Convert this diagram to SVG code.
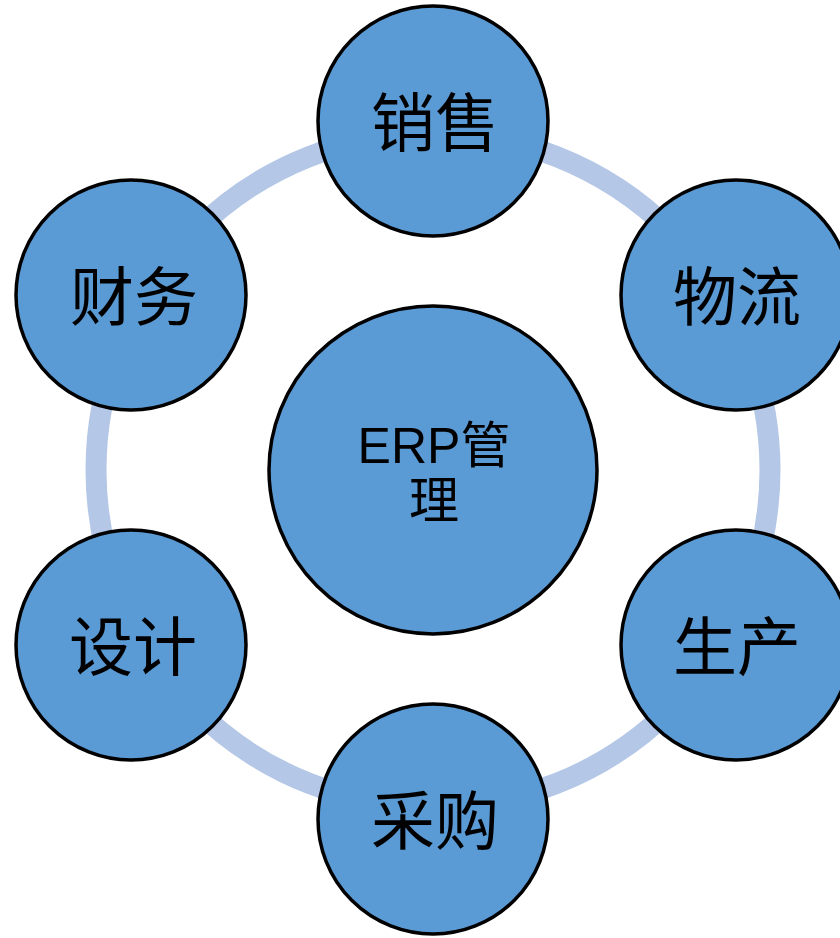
<svg xmlns="http://www.w3.org/2000/svg" width="840" height="938" viewBox="0 0 840 938">
<style>
.node{fill:#5b9bd5;stroke:#000;stroke-width:3.5}
.lbl{font-family:"Noto Sans CJK SC","Liberation Serif",sans-serif;font-size:64px;fill:#000;text-anchor:middle}
.ctr{font-family:"Liberation Sans","Noto Sans CJK SC",sans-serif;font-size:50px;fill:#000;text-anchor:middle}
</style>
<rect width="840" height="938" fill="#fff"/>
<g id="connectors">
<circle cx="433" cy="470" r="337" fill="none" stroke="#b4c7e7" stroke-width="21"/>
</g>
<g id="center">
<circle class="node" cx="433" cy="470" r="164"/>
<text class="ctr" x="434" y="463">ERP管</text>
<text class="ctr" x="434" y="518">理</text>
</g>
<g id="sales">
<circle class="node" cx="433" cy="121" r="115"/>
<text class="lbl" x="435" y="146">销售</text>
</g>
<g id="logistics">
<circle class="node" cx="736" cy="295" r="115"/>
<text class="lbl" x="737" y="320">物流</text>
</g>
<g id="production">
<circle class="node" cx="736" cy="645" r="115"/>
<text class="lbl" x="737" y="670">生产</text>
</g>
<g id="purchase">
<circle class="node" cx="433" cy="819" r="115"/>
<text class="lbl" x="435" y="844">采购</text>
</g>
<g id="design">
<circle class="node" cx="131" cy="645" r="115"/>
<text class="lbl" x="133" y="670">设计</text>
</g>
<g id="finance">
<circle class="node" cx="131" cy="295" r="115"/>
<text class="lbl" x="134" y="320">财务</text>
</g>
</svg>
